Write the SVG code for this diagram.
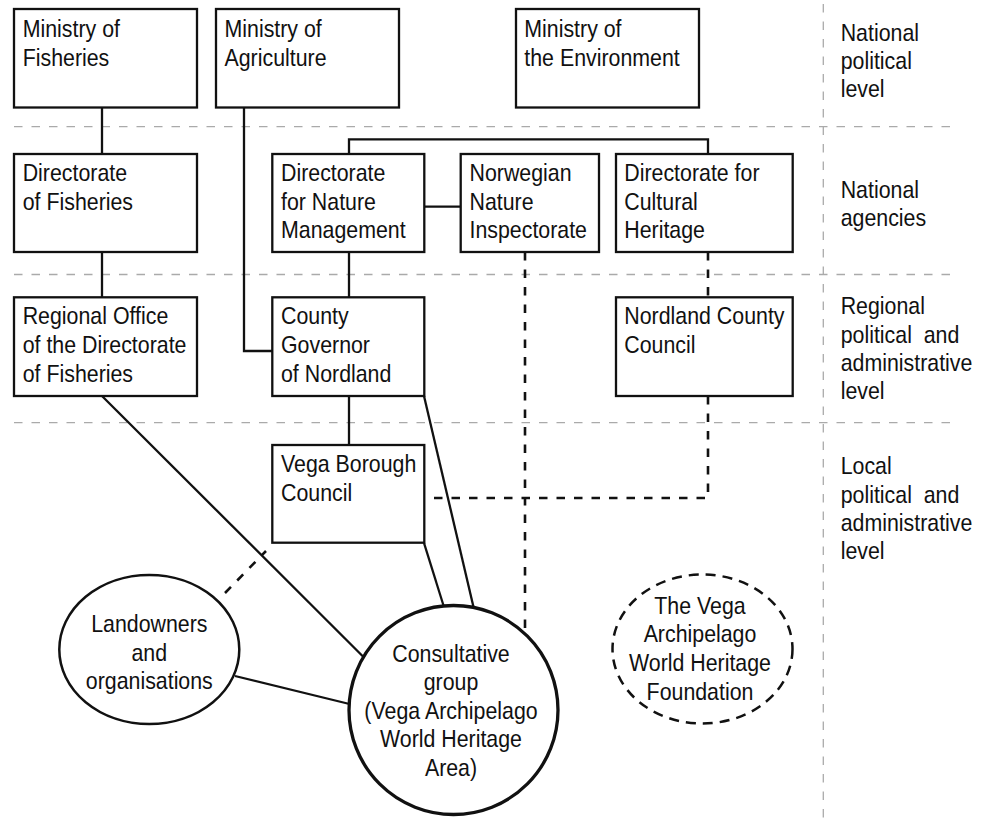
<svg xmlns="http://www.w3.org/2000/svg" width="982" height="823" viewBox="0 0 982 823">
<style>
.bg{fill:#ffffff}
.grid{stroke:#aaaaaa;stroke-width:1.3;stroke-dasharray:8.5 9;fill:none}
.box{fill:#ffffff;stroke:#111111;stroke-width:2.3}
.ell{fill:#ffffff;stroke:#111111;stroke-width:2.5}
.main{fill:#ffffff;stroke:#111111;stroke-width:3.3}
.dell{fill:#ffffff;stroke:#111111;stroke-width:2.5;stroke-dasharray:10 7}
.ln{stroke:#111111;stroke-width:2.3;fill:none}
.dl{stroke:#111111;stroke-width:2.6;fill:none;stroke-dasharray:8.5 9}
text{font-family:"Liberation Sans",Arial,sans-serif;font-size:24px;fill:#111111}
.c{text-anchor:middle}
</style>
<rect class="bg" x="0" y="0" width="982" height="823"/>
<g id="levels">
<line class="grid" x1="14" y1="126.7" x2="955" y2="126.7"/>
<line class="grid" x1="14" y1="274.5" x2="955" y2="274.5"/>
<line class="grid" x1="14" y1="422.7" x2="955" y2="422.7"/>
<line class="grid" x1="823.3" y1="4" x2="823.3" y2="823"/>
<text transform="translate(840.7,40.7) scale(0.89,1)"><tspan x="0" y="0">National</tspan><tspan x="0" y="28.3">political</tspan><tspan x="0" y="56.6">level</tspan></text>
<text transform="translate(840.7,197.7) scale(0.89,1)"><tspan x="0" y="0">National</tspan><tspan x="0" y="28">agencies</tspan></text>
<text transform="translate(840.7,314.3) scale(0.89,1)" xml:space="preserve"><tspan x="0" y="0">Regional</tspan><tspan x="0" y="28.4">political  and</tspan><tspan x="0" y="56.4">administrative</tspan><tspan x="0" y="85">level</tspan></text>
<text transform="translate(840.7,474) scale(0.89,1)" xml:space="preserve"><tspan x="0" y="0">Local</tspan><tspan x="0" y="28.7">political  and</tspan><tspan x="0" y="56.7">administrative</tspan><tspan x="0" y="85">level</tspan></text>
</g>
<g id="connectors">
<line class="ln" x1="102" y1="108" x2="102" y2="154"/>
<line class="ln" x1="102" y1="252" x2="102" y2="297"/>
<path class="ln" d="M244,108 V351 H272"/>
<path class="ln" d="M349,154 V139.3 H708 V154"/>
<line class="ln" x1="424" y1="206.7" x2="461" y2="206.7"/>
<line class="ln" x1="349" y1="252" x2="349" y2="297"/>
<line class="ln" x1="349" y1="396" x2="349" y2="445"/>
<line class="ln" x1="102" y1="396" x2="363.5" y2="657"/>
<line class="ln" x1="424" y1="396" x2="473.5" y2="607"/>
<line class="ln" x1="424" y1="543" x2="443.5" y2="605.5"/>
<line class="ln" x1="235" y1="676" x2="349.5" y2="704"/>
<line class="dl" x1="525" y1="252" x2="525" y2="634"/>
<line class="dl" x1="708" y1="252" x2="708" y2="297"/>
<path class="dl" d="M708,396 V498 H424"/>
<line class="dl" x1="225" y1="593" x2="266" y2="551"/>
</g>
<g id="ministry-fisheries">
<rect class="box" x="14" y="9" width="183" height="98.5"/>
<text transform="translate(22.7,37.3) scale(0.89,1)"><tspan x="0" y="0">Ministry of</tspan><tspan x="0" y="28.5">Fisheries</tspan></text>
</g>
<g id="ministry-agriculture">
<rect class="box" x="216" y="9" width="183" height="98.5"/>
<text transform="translate(224.5,37.3) scale(0.89,1)"><tspan x="0" y="0">Ministry of</tspan><tspan x="0" y="28.5">Agriculture</tspan></text>
</g>
<g id="ministry-environment">
<rect class="box" x="516" y="9" width="183" height="98.5"/>
<text transform="translate(524.3,37.3) scale(0.89,1)"><tspan x="0" y="0">Ministry of</tspan><tspan x="0" y="28.5">the Environment</tspan></text>
</g>
<g id="directorate-fisheries">
<rect class="box" x="14" y="154" width="183" height="98"/>
<text transform="translate(22.7,181.3) scale(0.89,1)"><tspan x="0" y="0">Directorate</tspan><tspan x="0" y="28.5">of Fisheries</tspan></text>
</g>
<g id="directorate-nature">
<rect class="box" x="272.3" y="154" width="152" height="98"/>
<text transform="translate(281,181.3) scale(0.89,1)"><tspan x="0" y="0">Directorate</tspan><tspan x="0" y="28.5">for Nature</tspan><tspan x="0" y="57">Management</tspan></text>
</g>
<g id="nature-inspectorate">
<rect class="box" x="460.7" y="154" width="138.3" height="98"/>
<text transform="translate(469.5,181.3) scale(0.89,1)"><tspan x="0" y="0">Norwegian</tspan><tspan x="0" y="28.5">Nature</tspan><tspan x="0" y="57">Inspectorate</tspan></text>
</g>
<g id="cultural-heritage">
<rect class="box" x="616" y="154" width="176.7" height="98"/>
<text transform="translate(624.3,181.3) scale(0.89,1)"><tspan x="0" y="0">Directorate for</tspan><tspan x="0" y="28.5">Cultural</tspan><tspan x="0" y="57">Heritage</tspan></text>
</g>
<g id="regional-office">
<rect class="box" x="14" y="297.3" width="183" height="98.7"/>
<text transform="translate(22.7,324.3) scale(0.89,1)"><tspan x="0" y="0">Regional Office</tspan><tspan x="0" y="29">of the Directorate</tspan><tspan x="0" y="58">of Fisheries</tspan></text>
</g>
<g id="county-governor">
<rect class="box" x="272.3" y="297.3" width="152" height="98.7"/>
<text transform="translate(281,324.3) scale(0.89,1)"><tspan x="0" y="0">County</tspan><tspan x="0" y="29">Governor</tspan><tspan x="0" y="58">of Nordland</tspan></text>
</g>
<g id="nordland-council">
<rect class="box" x="616" y="297.3" width="176.7" height="98.7"/>
<text transform="translate(624.3,324.3) scale(0.89,1)"><tspan x="0" y="0">Nordland County</tspan><tspan x="0" y="29">Council</tspan></text>
</g>
<g id="vega-borough">
<rect class="box" x="272.3" y="445" width="152" height="97.7"/>
<text transform="translate(281,472.3) scale(0.89,1)"><tspan x="0" y="0">Vega Borough</tspan><tspan x="0" y="28.7">Council</tspan></text>
</g>
<g id="landowners">
<ellipse class="ell" cx="149.3" cy="649.5" rx="90" ry="74.5"/>
<text class="c" transform="translate(149.3,631.7) scale(0.89,1)"><tspan x="0" y="0">Landowners</tspan><tspan x="0" y="29">and</tspan><tspan x="0" y="57.6">organisations</tspan></text>
</g>
<g id="consultative-group">
<circle class="main" cx="453.5" cy="710" r="104.5"/>
<text class="c" transform="translate(451,661.7) scale(0.89,1)"><tspan x="0" y="0">Consultative</tspan><tspan x="0" y="28.6">group</tspan><tspan x="0" y="57.3">(Vega Archipelago</tspan><tspan x="0" y="85.6">World Heritage</tspan><tspan x="0" y="114.3">Area)</tspan></text>
</g>
<g id="vega-foundation">
<ellipse class="dell" cx="702.5" cy="649" rx="90" ry="74.5"/>
<text class="c" transform="translate(700,614) scale(0.89,1)"><tspan x="0" y="0">The Vega</tspan><tspan x="0" y="28.5">Archipelago</tspan><tspan x="0" y="57.5">World Heritage</tspan><tspan x="0" y="86.5">Foundation</tspan></text>
</g>
</svg>
